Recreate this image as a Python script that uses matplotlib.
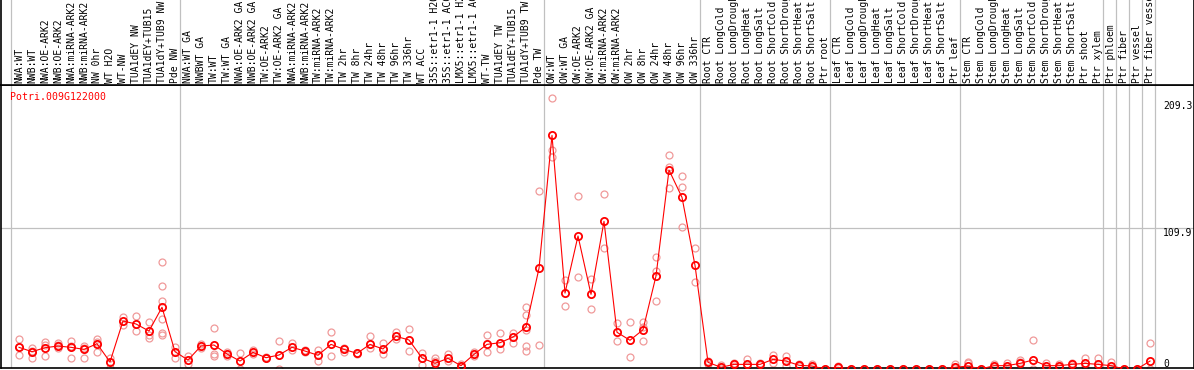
import matplotlib
matplotlib.use("Agg")
import matplotlib.pyplot as plt

# sample labels, left to right
labels = [
    "NWA:WT", "NWB:WT", "NWA:OE-ARK2", "NWB:OE-ARK2", "NWA:miRNA-ARK2",
    "NWB:miRNA-ARK2", "NW 0hr", "WT H2O", "WT-NW", "TUA1dEY NW",
    "TUA1dEY+TUB15", "TUA1dY+TUB9 NW", "Pde NW",
    "NWA:WT GA", "NWBWT GA", "TW:WT", "TW:WT GA", "NWA:OE-ARK2 GA",
    "NWB:OE-ARK2 GA", "TW:OE-ARK2", "TW:OE-ARK2 GA", "NWA:miRNA-ARK2",
    "NWB:miRNA-ARK2", "TW:miRNA-ARK2", "TW:miRNA-ARK2", "TW 2hr", "TW 8hr",
    "TW 24hr", "TW 48hr", "TW 96hr", "TW 336hr", "WT ACC",
    "35S::etr1-1 H2O", "35S::etr1-1 ACC", "LMX5::etr1-1 H2O",
    "LMX5::etr1-1 ACC", "WT-TW", "TUA1dEY TW", "TUA1dEY+TUB15",
    "TUA1dY+TUB9 TW", "Pde TW",
    "OW:WT", "OW:WT GA", "OW:OE-ARK2", "OW:OE-ARK2 GA", "OW:miRNA-ARK2",
    "OW:miRNA-ARK2", "OW 2hr", "OW 8hr", "OW 24hr", "OW 48hr", "OW 96hr",
    "OW 336hr",
    "Root CTR", "Root LongCold", "Root LongDrought", "Root LongHeat",
    "Root LongSalt", "Root ShortCold", "Root ShortDrought", "Root ShortHeat",
    "Root ShortSalt", "Ptr root",
    "Leaf CTR", "Leaf LongCold", "Leaf LongDrought", "Leaf LongHeat",
    "Leaf LongSalt", "Leaf ShortCold", "Leaf ShortDrought", "Leaf ShortHeat",
    "Leaf ShortSalt", "Ptr leaf",
    "Stem CTR", "Stem LongCold", "Stem LongDrought", "Stem LongHeat",
    "Stem LongSalt", "Stem ShortCold", "Stem ShortDrought", "Stem ShortHeat",
    "Stem ShortSalt", "Ptr shoot", "Ptr xylem",
    "Ptr phloem", "Ptr fiber", "Ptr vessel", "Ptr fiber vessel",
]

# index of the first sample of each group (plus the end)
group_starts = [0, 13, 41, 53, 63, 73, 84, 85, 86, 87, 88]

# mean expression per sample
means = [
    16.9, 13.5, 16.6, 17.9, 16.9, 15.3, 19.7, 5.5, 37.4, 35.1, 29.6, 48.1, 13.5,
    7.0, 17.9, 18.7, 11.7, 6.2, 13.0, 8.8, 10.9, 16.9, 14.0, 10.7, 19.2, 15.3,
    12.2, 19.2, 15.6, 25.5, 22.6, 8.6, 4.4, 8.3, 2.6, 11.4, 19.2, 20.5, 24.9,
    32.7, 78.5,
    182.1, 59.2, 103.7, 58.2, 115.1, 28.6, 22.4, 30.6, 72.5, 155.1, 133.8, 80.8,
    5.2, 1.3, 3.6, 3.6, 3.6, 7.5, 6.2, 2.9, 2.3, 0.0,
    1.3, 0.0, 0.0, 0.3, 0.0, 0.0, 0.0, 0.0, 0.0, 1.3,
    2.3, 0.0, 2.6, 2.6, 4.4, 7.0, 2.6, 2.6, 3.6, 4.4, 3.6,
    2.6, 0.0, 0.0, 6.2,
]

# individual replicates per sample
replicates = [
    [23.4, 10.7, 16.9], [16.1, 8.3, 14.0], [21.3, 10.1, 19.0], [20.0, 16.5, 18.5],
    [22.0, 8.3, 18.0], [18.2, 8.3, 16.5], [23.1, 13.0, 21.0], [8.8, 0.5],
    [40.8, 34.3], [41.1, 29.4], [36.4, 23.9, 26.5],
    [83.4, 64.4, 53.0, 39.0, 27.8, 26.5], [16.9, 8.8],
    [10.1, 3.9], [19.5, 16.5], [32.0, 11.7, 10.5], [13.0, 10.5], [12.2, 0.3],
    [14.8, 11.7], [8.8, 9.0], [21.8, 0.3], [20.0, 14.5], [15.0, 13.5],
    [14.8, 6.5], [28.6, 10.1], [16.1, 13.5], [12.7, 11.5], [25.5, 16.1],
    [20.0, 11.7], [29.1, 23.1], [31.2, 14.0], [12.7, 2.9], [8.8, 6.0],
    [11.7, 6.2], [4.0, 1.5], [13.0, 10.5], [26.3, 13.5], [27.8, 15.3],
    [28.3, 20.5], [48.1, 42.1, 30.4, 17.9, 14.3], [138.7, 18.5],
    [211.0, 170.7, 165.0], [69.4, 49.1], [134.8, 71.9], [69.9, 46.5],
    [136.2, 94.1], [35.6, 21.6], [36.4, 9.1], [36.4, 21.6, 33.0],
    [87.1, 76.4, 53.0], [166.6, 157.2, 140.8], [150.2, 141.6, 110.4],
    [94.1, 67.6],
    [6.2, 4.0], [3.4, 0.5], [4.4, 2.6], [8.0, 2.6], [4.9, 3.0], [10.7, 5.0],
    [10.1, 2.3], [3.9, 2.0], [3.9, 1.5], [0.3],
    [2.3, 0.5], [0.0], [0.0], [0.0], [0.0], [0.0], [0.0], [0.0], [0.0],
    [3.9, 0.5],
    [5.7, 4.5], [0.0], [3.9, 1.5], [4.9, 1.5], [7.0, 5.7], [22.6, 0.0],
    [4.9, 1.0], [4.0, 1.5], [4.9, 2.6], [8.8, 2.0], [8.3, 1.5],
    [5.7, 1.0], [0.0], [0.0], [20.0, 0.0],
]

y_ticks = [0, 109.9, 209.3]
gene = "Potri.009G122000"

W, H = 1194, 370
fig = plt.figure(figsize=(W / 100, H / 100), dpi=100)
mono = "DejaVu Sans Mono"
grid_c = "#c0c0c0"

# main plot area: pixels x 1..1194, y 85..368
ax = fig.add_axes([1 / W, (H - 368) / H, 1193 / W, (368 - 85) / H])
# header with sample names: pixels y 0..85
hx = fig.add_axes([1 / W, (H - 85) / H, 1193 / W, 85 / H])

xlim = ((1 - 19) / 13, (1194 - 19) / 13)
ax.set_xlim(*xlim)
ax.set_ylim(0.78, 221.4)
hx.set_xlim(*xlim)
hx.set_ylim(85, 0)

for a in (ax, hx):
    a.set_xticks([])
    a.set_yticks([])
    for s in a.spines.values():
        s.set_color("black")
        s.set_linewidth(1.2)
hx.spines["top"].set_visible(False)

# group separators
for g in group_starts:
    xs = g - 8 / 13
    ax.axvline(xs, color=grid_c, lw=0.9, zorder=1)
    hx.axvline(xs, color=grid_c, lw=0.9, zorder=1)
ax.axhline(109.9, color=grid_c, lw=0.9, zorder=1)

# replicates
for i, reps in enumerate(replicates):
    ax.plot([i] * len(reps), reps, linestyle="none", marker="o",
            markersize=5, markerfacecolor="none", markeredgecolor="#f09a9a",
            markeredgewidth=0.9, zorder=2)

# mean line + markers
ax.plot(range(len(means)), means, color="red", lw=0.8, marker="o",
        markersize=5.2, markerfacecolor="none", markeredgecolor="red",
        markeredgewidth=1.3, zorder=3)

# sample names
for i, lab in enumerate(labels):
    hx.text(i, 83, lab, rotation=90, ha="center", va="bottom",
            family=mono, fontsize=7, color="black")

# y tick values on the right
tx = (1163 - 19) / 13
for v in y_ticks:
    ax.text(tx, v, f"{v:g}" if v else "0", ha="left",
            va="bottom" if v == 0 else "top", family=mono, fontsize=7,
            color="black")

ax.text((10 - 19) / 13, 212, gene, ha="left", va="center",
        family=mono, fontsize=7.1, color="red")

fig.savefig("out.png", dpi=100)
